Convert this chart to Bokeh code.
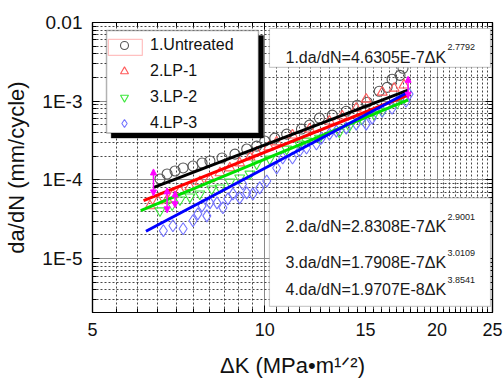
from bokeh.plotting import figure
from bokeh.models import (FixedTicker, CustomJSTickFormatter, LogAxis, BoxAnnotation,
                          Label, Legend, LegendItem, Arrow, NormalHead, ColumnDataSource)
from bokeh.embed import file_html
from bokeh.resources import INLINE

# ---------------- data ----------------
x_major_ticks = [5, 10, 15, 20, 25]
y_major_ticks = [1e-5, 1e-4, 1e-3, 1e-2]

untreated_k = [6.56, 6.75, 6.97, 7.20, 7.49, 7.77, 8.02, 8.42, 8.87, 9.30, 9.68, 10.0, 10.41,
               10.92, 11.59, 11.97, 12.46, 13.12, 13.88, 14.51, 15.10, 15.85, 16.36, 16.69,
               17.23, 17.44]
untreated_y = [1.03e-4, 1.19e-4, 1.30e-4, 1.42e-4, 1.50e-4, 1.64e-4, 1.74e-4, 1.90e-4, 2.13e-4,
               2.47e-4, 2.69e-4, 3.12e-4, 3.40e-4, 3.82e-4, 4.43e-4, 4.97e-4, 6.10e-4, 6.65e-4,
               7.47e-4, 8.90e-4, 9.71e-4, 1.34e-3, 1.50e-3, 1.90e-3, 2.13e-3, 2.62e-3]

lp1_k = [6.30, 6.51, 6.75, 6.91, 7.11, 7.40, 7.70, 8.02, 8.35, 8.69, 9.04, 9.42, 9.68, 10.16,
         10.49, 11.18, 11.97, 12.97, 13.66, 14.45, 15.04, 16.04, 16.83, 17.51]
lp1_y = [4.69e-5, 5.42e-5, 5.59e-5, 6.46e-5, 7.26e-5, 8.15e-5, 9.44e-5, 1.03e-4, 1.23e-4,
         1.42e-4, 1.64e-4, 1.95e-4, 2.26e-4, 2.62e-4, 3.03e-4, 3.71e-4, 4.43e-4, 5.58e-4,
         6.46e-4, 8.15e-4, 1.06e-3, 1.30e-3, 1.46e-3, 1.60e-3]

lp2_k = [6.56, 6.89, 7.11, 7.40, 7.70, 8.08, 8.35, 8.69, 9.04, 9.42, 9.68, 10.20, 10.92, 11.50,
         11.83, 12.46, 13.50, 14.05, 14.80, 15.53, 16.04, 17.03, 17.51]
lp2_y = [4.06e-5, 4.83e-5, 5.59e-5, 6.10e-5, 6.65e-5, 7.69e-5, 7.92e-5, 9.44e-5, 1.06e-4,
         1.19e-4, 1.60e-4, 1.85e-4, 2.47e-4, 2.86e-4, 3.12e-4, 3.40e-4, 4.06e-4, 4.83e-4,
         5.92e-4, 6.84e-4, 7.47e-4, 9.43e-4, 1.09e-3]

lp3_k = [6.65, 6.91, 7.20, 7.49, 7.64, 7.77, 7.92, 8.02, 8.25, 8.45, 8.62, 8.80, 9.04, 9.15,
         9.30, 9.53, 9.80, 10.08, 10.49, 10.75, 11.18, 11.50, 11.83, 12.31, 12.56, 12.97,
         13.34, 13.88, 14.45, 15.04, 15.41, 16.04, 16.69, 17.65, 17.87]
lp3_y = [2.26e-5, 2.62e-5, 2.40e-5, 3.03e-5, 3.71e-5, 4.69e-5, 3.50e-5, 5.12e-5, 5.12e-5,
         4.43e-5, 5.74e-5, 6.65e-5, 5.91e-5, 8.89e-5, 6.84e-5, 6.65e-5, 7.92e-5, 9.71e-5,
         1.42e-4, 1.90e-4, 1.90e-4, 2.33e-4, 2.54e-4, 2.86e-4, 3.40e-4, 3.82e-4, 4.17e-4,
         4.55e-4, 5.12e-4, 5.12e-4, 6.10e-4, 7.47e-4, 8.15e-4, 1.0e-3, 1.23e-3]

# fitted power-law lines (straight on log-log): end points
fit_k_start = [6.40, 6.14, 6.07, 6.20]
fit_y_start = [8.06e-5, 5.46e-5, 4.08e-5, 2.23e-5]
fit_k_end = [17.8, 17.8, 17.8, 17.8]
fit_y_end = [1.38e-3, 1.20e-3, 1.04e-3, 1.30e-3]

# magenta range arrows
arrow_k = [6.39, 6.75, 6.97, 17.8]
arrow_lo = [6.27e-5, 3.82e-5, 4.43e-5, 1.09e-3]
arrow_hi = [1.38e-4, 7.92e-5, 7.26e-5, 2.07e-3]

series_labels = ["1.Untreated", "2.LP-1", "3.LP-2", "4.LP-3"]
equations = ["1.da/dN=4.6305E-7\u0394K", "2.da/dN=2.8308E-7\u0394K",
             "3.da/dN=1.7908E-7\u0394K", "4.da/dN=1.9707E-8\u0394K"]
exponents = ["2.7792", "2.9001", "3.0109", "3.8541"]

# ---------------- figure ----------------
FONT = "Liberation Sans"

p = figure(width=504, height=380, x_axis_type="log", y_axis_type="log",
           x_range=(5, 25), y_range=(2.07e-6, 1e-2),
           output_backend="svg", toolbar_location=None,
           min_border_left=92, min_border_right=12, min_border_top=22, min_border_bottom=67)
p.background_fill_color = "white"
p.border_fill_color = "white"
p.outline_line_color = "black"
p.outline_line_width = 1.2

bottom_ax = p.xaxis[0]
left_ax = p.yaxis[0]

x_minor = [v / 2 for v in range(11, 50) if v % 10 != 0]
y_minor = [m * 10.0 ** e for e in range(-6, -2) for m in range(2, 10)]
xt = FixedTicker(ticks=x_major_ticks, minor_ticks=x_minor)
yt = FixedTicker(ticks=y_major_ticks, minor_ticks=y_minor)

xfmt = CustomJSTickFormatter(code="return String(Math.round(tick));")
yfmt = CustomJSTickFormatter(code="""
const e = Math.round(Math.log10(tick));
if (e == -2) { return '0.01'; }
return '1E' + e;
""")
blank = CustomJSTickFormatter(code="return '';")

bottom_ax.ticker = xt
bottom_ax.formatter = xfmt
left_ax.ticker = yt
left_ax.formatter = yfmt

top_ax = LogAxis(ticker=xt, formatter=blank)
right_ax = LogAxis(ticker=yt, formatter=blank)
p.add_layout(top_ax, "above")
p.add_layout(right_ax, "right")

for ax in [bottom_ax, left_ax, top_ax, right_ax]:
    ax.axis_line_color = "black"
    ax.axis_line_width = 1.2
    ax.major_tick_in = 7
    ax.major_tick_out = 0
    ax.minor_tick_in = 4
    ax.minor_tick_out = 0
    ax.major_tick_line_color = "black"
    ax.minor_tick_line_color = "black"
    ax.major_label_text_font = FONT
    ax.major_label_text_color = "#111111"
    ax.major_label_text_font_size = "18px"
    ax.major_label_standoff = 10

for ax in [top_ax, right_ax]:
    ax.major_label_text_font_size = "1px"
    ax.major_label_standoff = 0

left_ax.major_label_text_font_size = "19px"
left_ax.axis_label = "da/dN (mm/cycle)"
left_ax.axis_label_standoff = 10

bottom_ax.axis_label = "\u0394K (MPa\u2022m\u00b9\u141f\u00b2)"
bottom_ax.axis_label_standoff = 14

for ax in [left_ax, bottom_ax]:
    ax.axis_label_text_font = FONT
    ax.axis_label_text_font_size = "22px"
    ax.axis_label_text_font_style = "normal"
    ax.axis_label_text_color = "#111111"

# grids
p.xgrid.ticker = xt
p.ygrid.ticker = yt
for g in [p.xgrid[0], p.ygrid[0]]:
    g.grid_line_color = "#8a8a8a"
    g.grid_line_width = 1
    g.minor_grid_line_color = "#333333"
    g.minor_grid_line_dash = "2 2"
    g.minor_grid_line_width = 1
    g.minor_grid_line_alpha = 0.9

# ---------------- data glyphs ----------------
r0 = p.scatter(untreated_k, untreated_y, marker="circle", size=10, fill_color=None,
               line_color="#555555", line_width=1.1)
r1 = p.scatter(lp1_k, lp1_y, marker="triangle", size=10, fill_color=None,
               line_color="#ff5a5a", line_width=1.1)
r2 = p.scatter(lp2_k, lp2_y, marker="inverted_triangle", size=10, fill_color=None,
               line_color="#3ee83e", line_width=1.1)
r3 = p.scatter(lp3_k, lp3_y, marker="diamond", size=12, fill_color=None,
               line_color="#7373ff", line_width=1.1)

fit_colors = ["black", "#ff0000", "#00e000", "#0000ff"]
for i, c in enumerate(fit_colors):
    p.line([fit_k_start[i], fit_k_end[i]], [fit_y_start[i], fit_y_end[i]],
           line_color=c, line_width=3)

M = "#ff00ff"
asrc = ColumnDataSource(dict(x0=arrow_k, y0=arrow_lo, x1=arrow_k, y1=arrow_hi))
p.add_layout(Arrow(start=NormalHead(size=6, fill_color=M, line_color=M),
                   end=NormalHead(size=6, fill_color=M, line_color=M),
                   x_start="x0", y_start="y0", x_end="x1", y_end="y1",
                   source=asrc, line_color=M, line_width=1.5))

# ---------------- legend (box with shadow) ----------------
p.add_layout(BoxAnnotation(left=5.39, right=9.95, top=6.84e-3, bottom=3.40e-4,
                           fill_color="black", fill_alpha=1, line_color="black"))
p.add_layout(BoxAnnotation(left=5.29, right=9.75, top=7.92e-3, bottom=3.94e-4,
                           fill_color="white", fill_alpha=1, line_color="black",
                           line_width=1.5))
p.add_layout(BoxAnnotation(left=5.33, right=6.11, top=6.09e-3, bottom=3.82e-3,
                           fill_color=None, fill_alpha=0, line_color="#ff3030",
                           line_width=1.2))

legend = Legend(items=[LegendItem(label=series_labels[i], renderers=[r])
                       for i, r in enumerate([r0, r1, r2, r3])],
                location=(17, 179), padding=0, spacing=6,
                glyph_width=30, glyph_height=20, label_height=20, label_standoff=11,
                label_text_font=FONT, label_text_font_size="16px",
                label_text_color="#111111",
                border_line_color=None, background_fill_alpha=0)
p.add_layout(legend, "center")

# ---------------- equation boxes ----------------
p.add_layout(BoxAnnotation(left=10.19, right=24.8, top=8.39e-3, bottom=2.69e-3,
                           fill_color="white", fill_alpha=1, line_color="#555555",
                           line_width=1.2))
p.add_layout(BoxAnnotation(left=10.19, right=24.8, top=5.92e-5, bottom=2.47e-6,
                           fill_color="white", fill_alpha=1, line_color="#555555",
                           line_width=1.2))

eq_y = [3.61e-3, 2.54e-5, 8.89e-6, 4.05e-6]
sup_y = [4.83e-3, 3.40e-5, 1.19e-5, 5.42e-6]
for i in range(4):
    p.add_layout(Label(x=10.87, y=eq_y[i], text=equations[i], text_font=FONT,
                       text_font_size="16px", text_color="#1a1a1a",
                       text_baseline="alphabetic", text_align="left"))
    p.add_layout(Label(x=20.86, y=sup_y[i], text=exponents[i], text_font=FONT,
                       text_font_size="9px", text_color="#1a1a1a",
                       text_baseline="alphabetic", text_align="left"))

open("out.html", "w").write(file_html(p, INLINE))
